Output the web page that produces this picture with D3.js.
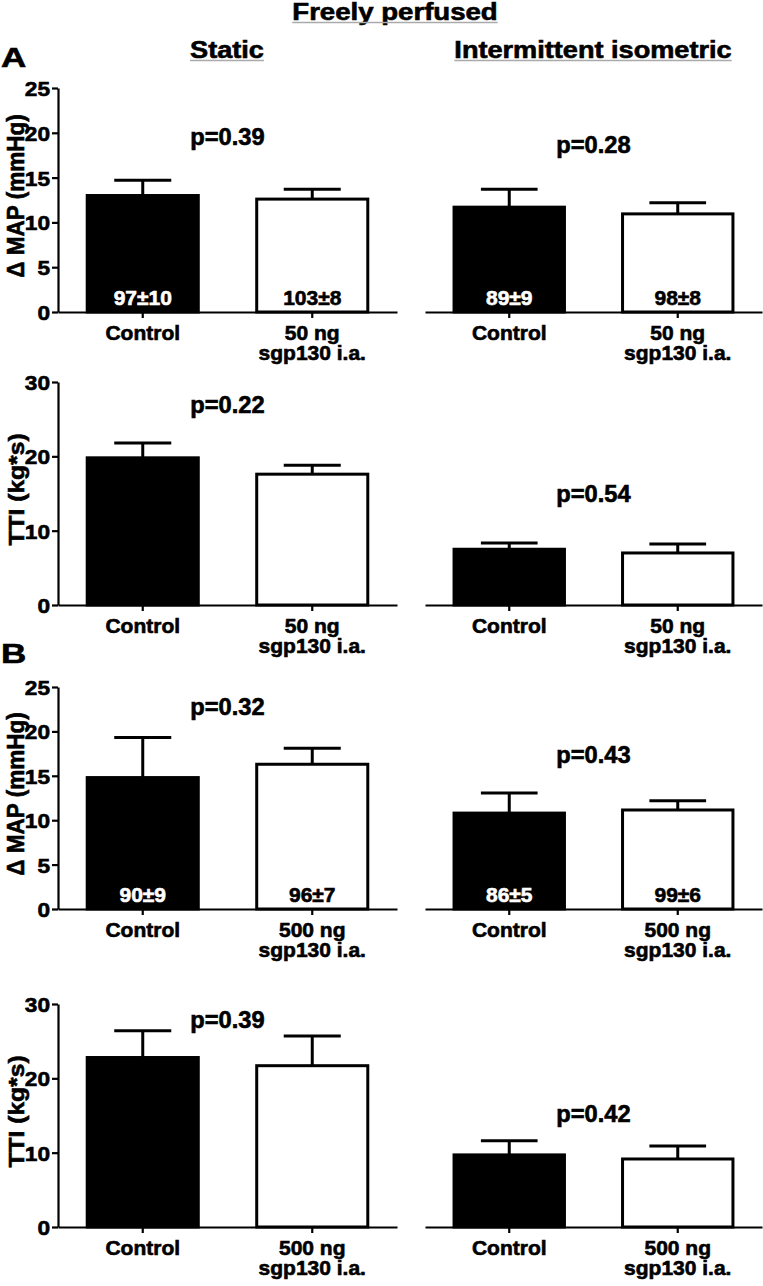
<!DOCTYPE html>
<html>
<head>
<meta charset="utf-8">
<script src="https://cdn.jsdelivr.net/npm/d3@7"></script>
<style>
  html, body { margin: 0; padding: 0; background: #fff; }
  svg { display: block; }
  text { font-family: "Liberation Sans", Arial, Helvetica, sans-serif; font-weight: bold; }
</style>
</head>
<body>
<div id="chart"></div>
<script>
// ---------------- DATA ----------------
const groups = ["Control", "sgp130"];
const catLabelsA = [["Control"], ["50 ng", "sgp130 i.a."]];
const catLabelsB = [["Control"], ["500 ng", "sgp130 i.a."]];

const mapTicks = [0, 5, 10, 15, 20, 25];
const ttiTicks = [0, 10, 20, 30];

// A: 50 ng
const mapStaticA = [13.0, 12.6];
const mapStaticA_sem = [1.7, 1.1];
const mapInterA = [11.7, 10.95];
const mapInterA_sem = [2.0, 1.25];
const ttiStaticA = [19.8, 17.6];
const ttiStaticA_sem = [2.0, 1.2];
const ttiInterA = [7.5, 7.0];
const ttiInterA_sem = [0.85, 1.2];
// B: 500 ng
const mapStaticB = [14.8, 16.3];
const mapStaticB_sem = [4.5, 1.8];
const mapInterB = [10.8, 11.15];
const mapInterB_sem = [2.25, 1.05];
const ttiStaticB = [22.8, 21.7];
const ttiStaticB_sem = [3.6, 4.0];
const ttiInterB = [9.7, 9.15];
const ttiInterB_sem = [1.9, 1.75];

// baseline MAP annotations inside bars
const baseStaticA = ["97\u00B110", "103\u00B18"];
const baseInterA = ["89\u00B19", "98\u00B18"];
const baseStaticB = ["90\u00B19", "96\u00B17"];
const baseInterB = ["86\u00B15", "99\u00B16"];

// p values
const pStaticA_map = "p=0.39", pInterA_map = "p=0.28";
const pStaticA_tti = "p=0.22", pInterA_tti = "p=0.54";
const pStaticB_map = "p=0.32", pInterB_map = "p=0.43";
const pStaticB_tti = "p=0.39", pInterB_tti = "p=0.42";

// ---------------- LAYOUT ----------------
const W = 763, H = 1286;
const svg = d3.select("#chart").append("svg").attr("width", W).attr("height", H);

const colX = { left: [58, 397], right: [425, 762] };
const rowY = [[312, 88], [605, 382], [909, 687], [1227, 1004]];
const TS = 0.6; // text stroke to mimic heavier weight

function stext(g, x, y, txt, size, sx, anchor, fill) {
  return g.append("text")
    .attr("transform", `translate(${x},${y}) scale(${sx},1)`)
    .attr("text-anchor", anchor || "middle")
    .attr("font-size", size)
    .attr("fill", fill || "#000")
    .attr("stroke", fill || "#000").attr("stroke-width", TS)
    .text(txt);
}

const panels = [
  { row: 0, col: "left", max: 25, ticks: mapTicks, mean: mapStaticA, sem: mapStaticA_sem, cats: catLabelsA, base: baseStaticA, p: pStaticA_map, pY: 18.6, ylab: "\u0394 MAP (mmHg)", ylabSize: 23, ylabSx: 0.98 },
  { row: 0, col: "right", max: 25, mean: mapInterA, sem: mapInterA_sem, cats: catLabelsA, base: baseInterA, p: pInterA_map, pY: 17.7 },
  { row: 1, col: "left", max: 30, ticks: ttiTicks, mean: ttiStaticA, sem: ttiStaticA_sem, cats: catLabelsA, p: pStaticA_tti, pY: 25.8, ylab: "TTI (kg*s)", ylabSize: 22, ylabSx: 1.12 },
  { row: 1, col: "right", max: 30, mean: ttiInterA, sem: ttiInterA_sem, cats: catLabelsA, p: pInterA_tti, pY: 13.9 },
  { row: 2, col: "left", max: 25, ticks: mapTicks, mean: mapStaticB, sem: mapStaticB_sem, cats: catLabelsB, base: baseStaticB, p: pStaticB_map, pY: 21.8, ylab: "\u0394 MAP (mmHg)", ylabSize: 23, ylabSx: 0.98 },
  { row: 2, col: "right", max: 25, mean: mapInterB, sem: mapInterB_sem, cats: catLabelsB, base: baseInterB, p: pInterB_map, pY: 16.4 },
  { row: 3, col: "left", max: 30, ticks: ttiTicks, mean: ttiStaticB, sem: ttiStaticB_sem, cats: catLabelsB, p: pStaticB_tti, pY: 26.8, ylab: "TTI (kg*s)", ylabSize: 22, ylabSx: 1.12 },
  { row: 3, col: "right", max: 30, mean: ttiInterB, sem: ttiInterB_sem, cats: catLabelsB, p: pInterB_tti, pY: 14.1 }
];

panels.forEach(P => {
  const g = svg.append("g");
  const [yb, yt] = rowY[P.row];
  const [x0, x1] = colX[P.col];
  const y = d3.scaleLinear().domain([0, P.max]).range([yb, yt]);
  const x = d3.scaleBand().domain(groups).range([x0, x1]).paddingInner(0.327).paddingOuter(0.1635);
  const bw = x.bandwidth();

  if (P.ticks) {
    const ya = g.append("g").attr("transform", `translate(${x0},0)`)
      .call(d3.axisLeft(y).tickValues(P.ticks).tickSize(6).tickSizeOuter(0).tickPadding(2));
    ya.attr("font-family", null).attr("font-size", null);
    ya.select(".domain").attr("stroke", "#000").attr("stroke-width", 2.2);
    ya.selectAll(".tick line").attr("stroke", "#000").attr("stroke-width", 2.2);
    ya.selectAll(".tick text")
      .attr("x", null).attr("dy", null)
      .attr("transform", "translate(-8,7.5) scale(1.08,1)")
      .attr("font-size", 21).attr("fill", "#000")
      .attr("stroke", "#000").attr("stroke-width", TS);

    const cy = (yb + yt) / 2 - 4;
    g.append("text")
      .attr("transform", `translate(24,${cy}) rotate(-90) scale(${P.ylabSx},1)`)
      .attr("text-anchor", "middle").attr("font-size", P.ylabSize)
      .attr("stroke", "#000").attr("stroke-width", TS)
      .text(P.ylab);
  }

  const xa = g.append("g").attr("transform", `translate(0,${yb})`)
    .call(d3.axisBottom(x).tickSize(6).tickSizeOuter(0).tickFormat(""));
  xa.select(".domain").attr("stroke", "#000").attr("stroke-width", 2.2);
  xa.selectAll(".tick line").attr("stroke", "#000").attr("stroke-width", 2.2);

  groups.forEach((c, i) => {
    const cx = x(c) + bw / 2;
    P.cats[i].forEach((line, j) => {
      stext(g, cx, yb + 28 + j * 20, line, 20, 1.05, "middle");
    });
  });

  g.selectAll("rect.bar").data(P.mean).join("rect")
    .attr("class", "bar")
    .attr("x", (d, i) => x(groups[i]) + 1.5)
    .attr("width", bw - 3)
    .attr("y", d => y(d))
    .attr("height", d => y(0) - y(d))
    .attr("fill", (d, i) => i === 0 ? "#000" : "#fff")
    .attr("stroke", "#000").attr("stroke-width", 3);

  P.mean.forEach((m, i) => {
    const cx = x(groups[i]) + bw / 2;
    const top = m + P.sem[i];
    g.append("line").attr("x1", cx).attr("x2", cx).attr("y1", y(m)).attr("y2", y(top))
      .attr("stroke", "#000").attr("stroke-width", 3);
    g.append("line").attr("x1", cx - bw / 4).attr("x2", cx + bw / 4).attr("y1", y(top)).attr("y2", y(top))
      .attr("stroke", "#000").attr("stroke-width", 3);
  });

  if (P.base) {
    P.base.forEach((t, i) => {
      const cx = x(groups[i]) + bw / 2;
      stext(g, cx, yb - 7, t, 21, 1.0, "middle", i === 0 ? "#fff" : "#000");
    });
  }

  const pcx = (x(groups[0]) + x(groups[1]) + bw) / 2;
  stext(g, pcx, y(P.pY), P.p, 23, 1.03, "middle");
});

function header(x, y, txt, size, sx, uy) {
  const t = stext(svg, x, y, txt, size, sx, "middle");
  const w = t.node().getComputedTextLength() * sx;
  svg.append("line").attr("x1", x - w / 2).attr("x2", x + w / 2)
    .attr("y1", uy).attr("y2", uy).attr("stroke", "#aaa").attr("stroke-width", 1.5);
}
header(395, 20, "Freely perfused", 23, 1.2, 22.5);
header(227, 58, "Static", 23, 1.18, 60.5);
header(593, 58, "Intermittent isometric", 23, 1.18, 60.5);

stext(svg, 1, 67, "A", 28, 1.25, "start");
stext(svg, 1, 663, "B", 28, 1.25, "start");
</script>
</body>
</html>
